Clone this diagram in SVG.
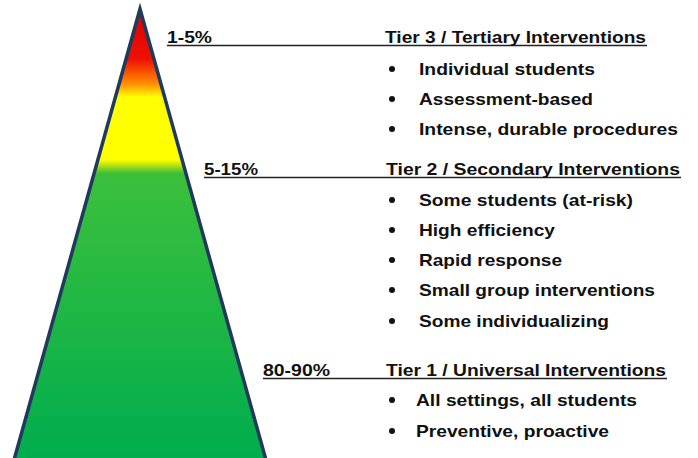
<svg xmlns="http://www.w3.org/2000/svg" width="698" height="458" viewBox="0 0 698 458">
<style>
.t{font-family:"Liberation Sans",Arial,sans-serif;font-weight:bold;font-size:17px;fill:#111;}
.u{text-decoration:underline;}
.ln{stroke:#222;stroke-width:1.3;fill:none;}
.b{fill:#111;}
</style>
<defs>
<linearGradient id="g" gradientUnits="userSpaceOnUse" x1="0" y1="10" x2="0" y2="457">
<stop offset="0" stop-color="#dd0000"/>
<stop offset="0.11" stop-color="#ee1100"/>
<stop offset="0.165" stop-color="#ff9000"/>
<stop offset="0.195" stop-color="#ffff00"/>
<stop offset="0.335" stop-color="#ffff00"/>
<stop offset="0.365" stop-color="#3cc03c"/>
<stop offset="1" stop-color="#00ad4e"/>
</linearGradient>
</defs>
<g id="pyramid">
<polygon points="140,9 14,460 266,460" fill="url(#g)" stroke="#1f3a5a" stroke-width="3.5" stroke-linejoin="miter"/>
</g>
<g id="connectors">
<line class="ln" x1="167" y1="45.5" x2="647" y2="45.5"/>
<line class="ln" x1="204" y1="177.5" x2="681" y2="177.5"/>
<line class="ln" x1="263" y1="378.5" x2="667" y2="378.5"/>
</g>
<g id="tier3">
<text class="t" x="167" y="43" textLength="45" lengthAdjust="spacingAndGlyphs">1-5%</text>
<text class="t" x="385" y="43" textLength="261" lengthAdjust="spacingAndGlyphs">Tier 3 / Tertiary Interventions</text>
<circle class="b" cx="392" cy="69" r="3"/>
<text class="t" x="419" y="75" textLength="176" lengthAdjust="spacingAndGlyphs">Individual students</text>
<circle class="b" cx="392" cy="99" r="3"/>
<text class="t" x="419" y="105" textLength="174" lengthAdjust="spacingAndGlyphs">Assessment-based</text>
<circle class="b" cx="392" cy="129" r="3"/>
<text class="t" x="419" y="135" textLength="259" lengthAdjust="spacingAndGlyphs">Intense, durable procedures</text>
</g>
<g id="tier2">
<text class="t" x="204" y="175" textLength="54" lengthAdjust="spacingAndGlyphs">5-15%</text>
<text class="t" x="386" y="175" textLength="294" lengthAdjust="spacingAndGlyphs">Tier 2 / Secondary Interventions</text>
<circle class="b" cx="392" cy="200" r="3"/>
<text class="t" x="419" y="206" textLength="214" lengthAdjust="spacingAndGlyphs">Some students (at-risk)</text>
<circle class="b" cx="392" cy="230" r="3"/>
<text class="t" x="419" y="236" textLength="136" lengthAdjust="spacingAndGlyphs">High efficiency</text>
<circle class="b" cx="392" cy="260" r="3"/>
<text class="t" x="419" y="266" textLength="143" lengthAdjust="spacingAndGlyphs">Rapid response</text>
<circle class="b" cx="392" cy="290" r="3"/>
<text class="t" x="419" y="296" textLength="236" lengthAdjust="spacingAndGlyphs">Small group interventions</text>
<circle class="b" cx="392" cy="321" r="3"/>
<text class="t" x="419" y="327" textLength="190" lengthAdjust="spacingAndGlyphs">Some individualizing</text>
</g>
<g id="tier1">
<text class="t" x="263" y="376" textLength="67" lengthAdjust="spacingAndGlyphs">80-90%</text>
<text class="t" x="386" y="376" textLength="280" lengthAdjust="spacingAndGlyphs">Tier 1 / Universal Interventions</text>
<circle class="b" cx="392" cy="400" r="3"/>
<text class="t" x="416" y="406" textLength="221" lengthAdjust="spacingAndGlyphs">All settings, all students</text>
<circle class="b" cx="392" cy="431" r="3"/>
<text class="t" x="416" y="437" textLength="193" lengthAdjust="spacingAndGlyphs">Preventive, proactive</text>
</g>
</svg>
